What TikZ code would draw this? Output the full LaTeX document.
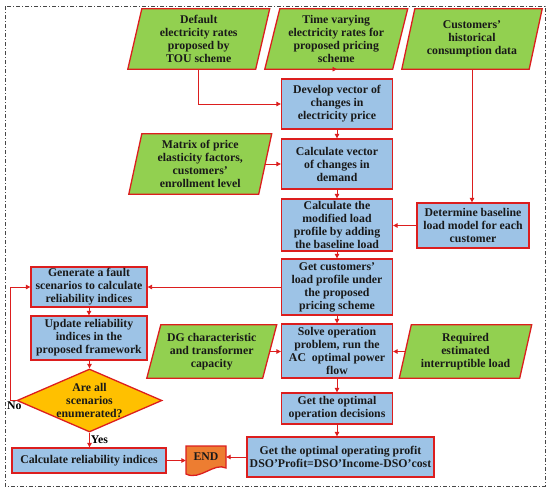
\documentclass[tikz,border=0pt]{standalone}
\usepackage{fontspec}
\setmainfont{Liberation Serif}
\usetikzlibrary{arrows.meta,shapes.geometric,backgrounds,calc}
\definecolor{bord}{RGB}{220,30,30}
\definecolor{gfill}{RGB}{146,208,80}
\definecolor{bfill}{RGB}{157,195,230}
\definecolor{dfill}{RGB}{255,192,0}
\definecolor{efill}{RGB}{237,125,49}
\definecolor{frm}{RGB}{70,70,70}
\tikzset{
  txt/.style={font=\fontsize{11.8}{13}\selectfont\bfseries, align=center, inner sep=0pt, text=black!90},
  procbox/.style={txt, draw=bord, fill=bfill, line width=1.3pt},
  shp/.style={draw=bord, line width=1.3pt, line join=miter},
  conn/.style={draw=bord, line width=0.9pt, -{Triangle[length=4.5pt,width=4.5pt]}},
  lbl/.style={font=\fontsize{11.8}{12}\selectfont\bfseries, inner sep=1pt},
}
\newcommand\pshape[2]{%
  \path[shp, fill=gfill] ([xshift=#2pt]#1.north west) -- ([xshift=#2pt]#1.north east)
    -- ([xshift=-#2pt]#1.south east) -- ([xshift=-#2pt]#1.south west) -- cycle;}
\begin{document}
\begin{tikzpicture}[x=1pt,y=-1pt]
\useasboundingbox (0,0) rectangle (550,493);
\draw[frm, line width=0.8pt, dash pattern=on 4pt off 2pt on 1pt off 2pt] (5,6) rectangle (545,486);

% inputs (parallelograms)
\node[txt, minimum width=127.5pt, minimum height=60pt] (p1) at (198.75,39) {Default\\electricity rates\\proposed by\\TOU scheme};
\node[txt, minimum width=127.5pt, minimum height=60pt] (p2) at (336.25,39) {Time varying\\electricity rates for\\proposed pricing\\scheme};
\node[txt, minimum width=127pt, minimum height=60pt] (p3) at (472,39) {Customers’\\historical\\consumption data};
\node[txt, minimum width=129.5pt, minimum height=60pt] (mat) at (200.25,164) {Matrix of price\\elasticity factors,\\customers’\\enrollment level};
\node[txt, minimum width=115.5pt, minimum height=53pt] (dg) at (211.75,351.5) {DG characteristic\\and transformer\\capacity};
\node[txt, minimum width=120pt, minimum height=53pt] (req) at (465.5,351.5) {Required\\estimated\\interruptible load};

% process boxes
\node[procbox, minimum width=111pt, minimum height=50pt] (dev) at (337,104) {Develop vector of\\changes in\\electricity price};
\node[procbox, minimum width=111pt, minimum height=50pt] (cvec) at (337,164) {Calculate vector\\of changes in\\demand};
\node[procbox, minimum width=111pt, minimum height=52pt] (mod) at (337,225) {Calculate the\\modified load\\profile by adding\\the baseline load};
\node[procbox, minimum width=112pt, minimum height=45pt] (baseln) at (473,225.5) {Determine baseline\\load model for each\\customer};
\node[procbox, minimum width=111pt, minimum height=56pt] (cust) at (337,287) {Get customers’\\load profile under\\the proposed\\pricing scheme};
\node[procbox, minimum width=111pt, minimum height=54pt] (solve) at (337,351) {Solve operation\\problem, run the\\AC\ \ optimal power\\flow};
\node[procbox, minimum width=111pt, minimum height=31pt] (dec) at (337,408.5) {Get the optimal\\operation decisions};
\node[procbox, minimum width=187pt, minimum height=40pt] (prof) at (340.5,457) {Get the optimal operating profit\\DSO’Profit=DSO’Income-DSO’cost};

\node[procbox, minimum width=116pt, minimum height=40pt] (gen) at (89,287) {Generate a fault\\scenarios to calculate\\reliability indices};
\node[procbox, minimum width=116pt, minimum height=44pt] (upd) at (89,338) {Update reliability\\indices in the\\proposed framework};
\node[diamond, draw=bord, fill=dfill, line width=1.3pt, minimum width=145pt, minimum height=63pt, inner sep=0pt] (dia) at (89.5,400.5) {};
\node[txt] (diatxt) at (dia) {Are all\\scenarios\\enumerated?};
\node[procbox, minimum width=154pt, minimum height=25pt] (cri) at (89,460.5) {Calculate reliability indices};
\node[txt, minimum width=40pt, minimum height=22pt] (endn) at (206,457) {END};

\begin{pgfonlayer}{background}
  \pshape{p1}{7}
  \pshape{p2}{7.5}
  \pshape{p3}{6.5}
  \pshape{mat}{6.5}
  \pshape{dg}{7}
  \pshape{req}{6}
  \path[shp, fill=efill] (186,446) -- (226,446) -- (226,468)
     .. controls (214,462) and (200,481) .. (186,474) -- cycle;
\end{pgfonlayer}

% connectors
\draw[conn] (p1.south) |- (dev.west);
\draw[conn] (p2.south) -- (p2.south -| dev.north);
\draw[conn] (p3.south) -- (p3.south |- baseln.north);
\draw[conn] (dev) -- (cvec);
\draw[conn] (mat.east) -- (mat.east -| cvec.west);
\draw[conn] (cvec) -- (mod);
\draw[conn] (baseln.west) -- (baseln.west -| mod.east);
\draw[conn] (mod) -- (cust);
\draw[conn] (cust.west) -- (cust.west -| gen.east);
\draw[conn] (cust) -- (solve);
\draw[conn] (dg.east) -- (dg.east -| solve.west);
\draw[conn] (req.west) -- (req.west -| solve.east);
\draw[conn] (solve) -- (dec);
\draw[conn] (dec.south) -- (dec.south |- prof.north);
\draw[conn] (prof.west) -- (prof.west -| endn.east);
\draw[conn] (cri.east) -- (cri.east -| endn.west);
\draw[conn] (gen) -- (upd);
\draw[conn] (upd.south) -- (upd.south -| dia.north) -- (dia.north);
\draw[conn] (dia.south) -- node[lbl, right, pos=0.45] {Yes} (dia.south |- cri.north);
\coordinate (loop) at (10,400.5);
\draw[conn] (dia.west) -- (loop) |- (gen.west);
\node[lbl, anchor=north west] (nolbl) at (6,401) {No};
\end{tikzpicture}
\end{document}
